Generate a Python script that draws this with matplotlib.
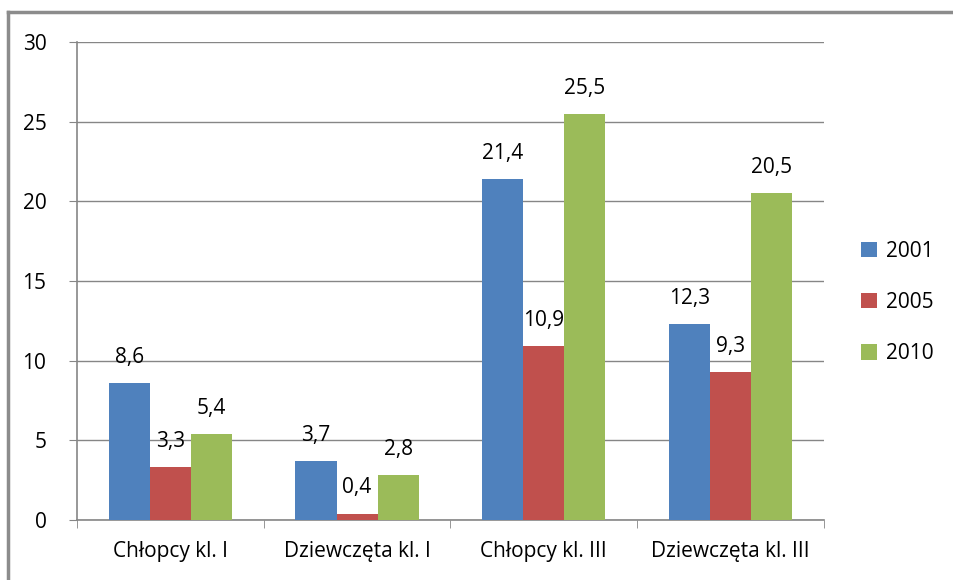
import matplotlib.pyplot as plt
import numpy as np

plt.rcParams['font.family'] = ['Open Sans', 'DejaVu Sans']

categories = ['Chłopcy kl. I', 'Dziewczęta kl. I', 'Chłopcy kl. III', 'Dziewczęta kl. III']
years = ['2001', '2005', '2010']
v2001 = [8.6, 3.7, 21.4, 12.3]
v2005 = [3.3, 0.4, 10.9, 9.3]
v2010 = [5.4, 2.8, 25.5, 20.5]
colors = ['#4F81BD', '#C0504D', '#9BBB59']

fig = plt.figure(figsize=(9.54, 5.8), dpi=100)
ax = fig.add_axes([0.0807, 0.1034, 0.783, 0.824])

x = np.arange(len(categories))
w = 0.22
fs = 15
series = [v2001, v2005, v2010]
for i, (vals, c, yr) in enumerate(zip(series, colors, years)):
    pos = x + (i - 1) * w
    ax.bar(pos, vals, width=w, color=c, label=yr, zorder=3)
    for p, v in zip(pos, vals):
        ax.annotate(f'{v:.1f}'.replace('.', ','), (p, v), xytext=(0, 11),
                    textcoords='offset points', ha='center', va='bottom', fontsize=fs)

ax.set_xlim(-0.5, 3.5)
ax.set_ylim(0, 30)
ax.set_yticks(range(0, 31, 5))
ax.set_xticks(x)
ax.set_xticklabels(categories, fontsize=fs)
ax.set_xticks(np.arange(-0.5, 4, 1), minor=True)
ax.tick_params(axis='x', which='major', length=0, pad=15)
ax.tick_params(axis='x', which='minor', length=6, color='#868686')
ax.tick_params(axis='y', labelsize=fs, length=6, color='#868686', pad=16)
ax.grid(axis='y', color='#868686', linewidth=1, zorder=0)
for s in ['top', 'right']:
    ax.spines[s].set_visible(False)
for s in ['left', 'bottom']:
    ax.spines[s].set_color('#868686')
    ax.spines[s].set_linewidth(1.2)

ax.legend(loc='center left', bbox_to_anchor=(1.05, 0.455), frameon=False, fontsize=fs,
          handlelength=0.75, handleheight=0.75, labelspacing=1.45, handletextpad=0.45,
          borderaxespad=0, borderpad=0)

# outer chart frame
fig.add_artist(plt.Line2D([8 / 954, 8 / 954], [0, 1 - 12 / 580], color='#8c8c8c', lw=2.5))
fig.add_artist(plt.Line2D([8 / 954, 1], [1 - 12 / 580, 1 - 12 / 580], color='#8c8c8c', lw=2.5))

fig.savefig('out.png', dpi=100)
